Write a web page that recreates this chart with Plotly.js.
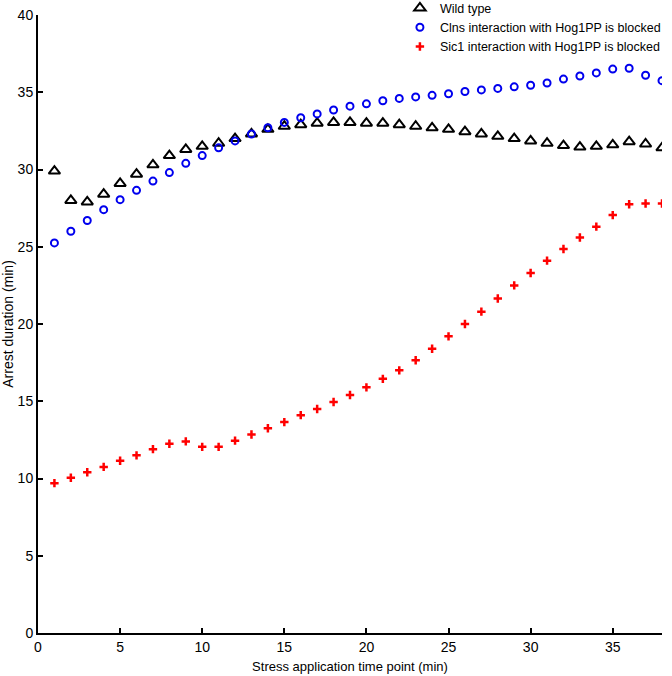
<!DOCTYPE html>
<html>
<head>
<meta charset="utf-8">
<script src="https://cdn.plot.ly/plotly-3.0.1.min.js"></script>
<style>
  html, body { margin: 0; padding: 0; background: #fff; }
  #plotDiv { width: 672px; height: 676px; }
</style>
</head>
<body>
<div id="plotDiv"></div>
<script>
// stress application time points (min)
var timePoints = [1, 2, 3, 4, 5, 6, 7, 8, 9, 10,
                  11, 12, 13, 14, 15, 16, 17, 18, 19, 20,
                  21, 22, 23, 24, 25, 26, 27, 28, 29, 30,
                  31, 32, 33, 34, 35, 36, 37, 38];

// arrest duration (min)
var wildType = [29.9, 28.0, 27.9, 28.4, 29.1, 29.7, 30.3, 30.9, 31.3, 31.5,
                31.7, 32.0, 32.3, 32.6, 32.8, 32.9, 33.0, 33.05, 33.05, 33.0,
                33.0, 32.9, 32.8, 32.7, 32.6, 32.45, 32.3, 32.15, 32.0, 31.85,
                31.7, 31.55, 31.45, 31.5, 31.6, 31.8, 31.65, 31.4];
var clnsBlocked = [25.25, 26.0, 26.7, 27.4, 28.05, 28.65, 29.25, 29.8, 30.4, 30.9,
                   31.4, 31.85, 32.3, 32.7, 33.05, 33.35, 33.6, 33.85, 34.1, 34.25,
                   34.45, 34.6, 34.7, 34.8, 34.9, 35.05, 35.15, 35.25, 35.35, 35.45,
                   35.6, 35.85, 36.05, 36.25, 36.5, 36.55, 36.1, 35.75];
var sic1Blocked = [9.7, 10.05, 10.4, 10.75, 11.15, 11.5, 11.9, 12.25, 12.4, 12.05,
                   12.05, 12.45, 12.85, 13.25, 13.65, 14.1, 14.5, 14.95, 15.4, 15.9,
                   16.45, 17.0, 17.65, 18.4, 19.2, 20.0, 20.8, 21.65, 22.5, 23.3,
                   24.1, 24.85, 25.6, 26.3, 27.05, 27.75, 27.8, 27.8];

var trace1 = {
  x: timePoints,
  y: wildType,
  mode: 'markers',
  type: 'scatter',
  name: 'Wild type',
  marker: {
    symbol: 'triangle-up-open',
    size: 10,
    color: '#000000',
    line: { color: '#000000', width: 2 }
  }
};

var trace2 = {
  x: timePoints,
  y: clnsBlocked,
  mode: 'markers',
  type: 'scatter',
  name: 'Clns interaction with Hog1PP is blocked',
  marker: {
    symbol: 'circle-open',
    size: 7,
    color: '#0000ee',
    line: { color: '#0000ee', width: 2 }
  }
};

var trace3 = {
  x: timePoints,
  y: sic1Blocked,
  mode: 'markers',
  type: 'scatter',
  name: 'Sic1 interaction with Hog1PP is blocked',
  marker: {
    symbol: 'cross-thin-open',
    size: 6,
    color: '#ff0000',
    line: { color: '#ff0000', width: 2.5 }
  }
};

var data = [trace1, trace2, trace3];

var layout = {
  width: 672,
  height: 676,
  paper_bgcolor: '#ffffff',
  plot_bgcolor: '#ffffff',
  font: {
    family: '"Liberation Sans", Arial, Helvetica, sans-serif',
    size: 12,
    color: '#000000'
  },
  showlegend: true,
  legend: {
    x: 0.58,
    xanchor: 'left',
    y: 1.035,
    yanchor: 'top',
    bgcolor: 'rgba(0,0,0,0)',
    borderwidth: 0,
    font: { size: 12.5, color: '#000000' }
  },
  xaxis: {
    range: [0, 38],
    dtick: 5,
    tick0: 0,
    showgrid: false,
    zeroline: false,
    showline: true,
    linecolor: '#000000',
    linewidth: 2,
    ticks: 'inside',
    ticklen: 5,
    tickwidth: 2,
    tickcolor: '#000000',
    tickfont: { size: 14 },
    title: { text: 'Stress application time point (min)', standoff: 8, font: { size: 13 } }
  },
  yaxis: {
    range: [0, 40],
    dtick: 5,
    tick0: 0,
    showgrid: false,
    zeroline: false,
    showline: true,
    linecolor: '#000000',
    linewidth: 2,
    ticks: 'inside',
    ticklen: 5,
    tickwidth: 2,
    tickcolor: '#000000',
    tickfont: { size: 14 },
    title: { text: 'Arrest duration (min)', standoff: 4, font: { size: 14 } }
  },
  margin: {
    l: 38,
    r: 10,
    t: 15,
    b: 43,
    pad: 0,
    autoexpand: false
  }
};

Plotly.newPlot('plotDiv', data, layout, { displayModeBar: false, staticPlot: true });
</script>
</body>
</html>
